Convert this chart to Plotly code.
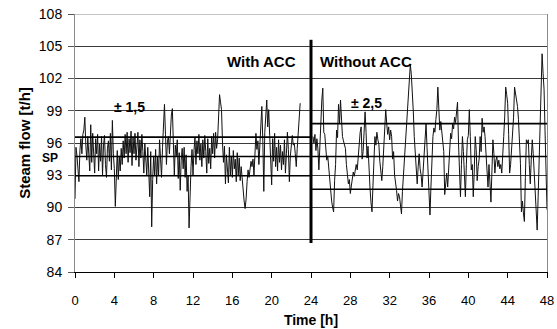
import numpy as np
import plotly.graph_objects as go

# ---- data ----
# With ACC: hourly rows, 0.1 h step, starting at 0.0 h
flow_with_acc = [
    90.8, 95.6, 94.8, 93.0, 92.4, 95.3, 96.4, 95.0, 96.8, 97.2,
    98.4, 95.8, 94.4, 96.6, 94.9, 93.4, 97.7, 94.2, 96.9, 95.1,
    93.2, 96.4, 95.0, 96.8, 93.4, 95.9, 94.3, 96.6, 93.0, 95.8,
    96.7, 94.0, 92.8, 95.5, 96.2, 94.3, 96.9, 93.5, 98.1, 95.0,
    93.6, 90.1, 93.8, 95.3, 92.6, 94.8, 93.4, 95.5, 94.0, 96.2,
    94.6, 96.8, 95.0, 97.0, 94.2, 96.4, 95.1, 97.1, 93.9, 96.5,
    95.0, 96.9, 94.4, 96.2, 97.0, 93.8, 96.3, 94.6, 96.8, 95.2,
    93.2, 96.0, 94.4, 93.0, 95.6, 93.3, 91.0, 95.2, 88.2, 92.6,
    94.8, 93.0, 95.4, 92.2, 94.7, 93.0, 96.3, 94.5, 92.8, 95.6,
    97.2, 99.6, 96.8, 94.0, 96.2, 96.6, 95.0, 97.6, 98.6, 99.2,
    96.4, 93.0, 95.8, 94.8, 96.3, 92.7, 95.1, 91.6, 94.4, 95.5,
    93.6, 95.6, 92.8, 94.9, 91.5, 93.0, 88.1, 91.4, 93.8, 95.4,
    93.0, 95.3, 96.5, 94.0, 96.2, 95.0, 96.8, 94.4, 95.9, 93.8,
    96.3, 94.6, 96.7, 95.2, 93.2, 96.4, 94.1, 95.5, 93.6, 96.6,
    95.0, 96.9, 94.6, 97.0, 95.5, 96.3, 98.0, 100.5, 99.8, 99.1,
    96.0, 94.2, 95.7, 92.2, 94.9, 93.4, 92.3, 95.6, 93.0, 94.8,
    92.8, 95.3, 93.6, 94.5, 92.4, 95.1, 93.0, 94.6, 92.5, 93.8,
    92.6, 91.2, 90.6, 89.9, 90.8, 92.4, 93.5, 92.8, 93.6, 94.3,
    93.8, 94.5, 93.0, 95.2, 96.9, 95.4, 96.2, 94.0, 95.9, 97.3,
    99.4, 96.2, 91.5, 97.0, 98.3, 100.0, 97.5, 99.1, 96.7, 94.4,
    92.1, 96.4, 94.3, 96.9, 93.8, 95.6, 93.4, 96.3, 94.2, 95.8,
    93.5, 95.2, 94.0, 96.3, 93.2, 95.0, 97.0, 95.4, 92.4, 94.8,
    96.2, 96.7, 95.8, 96.0, 95.0, 93.8, 95.5, 97.2, 98.8, 99.7,
]
start_with_acc = 0.0

# Without ACC: 0.1 h step, starting at 24.2 h
flow_without_acc = [
    96.6, 96.0, 96.8, 95.3, 96.4, 95.5, 93.5, 96.0,
    98.8, 100.0, 101.1, 97.0, 96.8, 95.4, 94.4, 94.8, 93.6, 92.9,
    91.8, 90.6, 90.0, 89.6, 92.5, 94.0, 97.2, 96.5, 99.6, 97.8,
    100.0, 97.4, 96.6, 96.2, 95.8, 95.5, 94.0, 93.0, 92.2, 92.6,
    91.3, 92.0, 92.9, 93.3, 92.9, 93.6, 94.0, 93.5, 94.8, 96.0,
    97.0, 97.5, 94.5, 95.2, 97.4, 98.9, 97.0, 94.6, 95.7, 93.2,
    91.8, 90.5, 89.6, 92.0, 94.6, 96.6, 95.8, 97.0, 96.3, 95.9,
    94.3, 93.0, 92.5, 93.8, 96.0, 98.2, 99.1, 97.8, 96.8, 97.5,
    96.3, 97.2, 96.6, 94.5, 95.2, 93.0, 92.4, 91.6, 90.6, 91.3,
    91.0, 89.8, 89.4, 91.5, 93.0, 94.1, 96.6, 97.8, 99.4, 100.6,
    101.5, 103.3, 102.4, 100.9, 99.0, 96.6, 95.0, 93.4, 92.2, 93.8,
    95.0, 93.6, 93.0, 91.9, 93.5, 94.7, 96.0, 97.8, 95.6, 93.5,
    90.6, 89.3, 92.0, 94.5, 96.6, 97.4, 97.0, 98.2, 99.1, 101.2,
    99.4, 97.2, 98.0, 97.0, 96.0, 95.2, 91.2, 92.4, 93.2, 91.9,
    93.9, 94.6, 96.9, 96.4, 97.8, 97.3, 98.4, 97.9, 98.8, 99.8,
    96.0, 93.2, 91.0, 94.0, 96.6, 95.2, 93.0, 91.0, 94.0, 96.3,
    96.7, 99.1, 96.6, 93.5, 94.0, 91.0, 93.3, 96.6, 95.4, 92.5,
    93.8, 94.5, 96.6, 95.2, 98.3, 97.0, 97.5, 96.6, 95.0, 93.2,
    91.9, 94.0, 92.2, 90.5, 93.4, 96.3, 95.0, 93.2, 94.4, 94.7,
    93.8, 94.4, 93.6, 94.0, 93.2, 95.6, 96.6, 98.5, 101.2, 100.5,
    99.7, 96.8, 93.2, 94.0, 95.2, 96.3, 98.4, 101.2, 100.6, 99.9,
    99.4, 98.2, 96.0, 94.1, 89.6, 90.6, 89.5, 88.7, 92.8, 96.3,
    96.0, 96.3, 94.0, 92.2, 94.5, 96.3, 95.0, 93.5, 91.6, 90.0,
    87.9, 91.0, 94.7, 98.5, 101.8, 104.3, 102.5, 101.0, 97.2, 93.5,
    89.8,
]
start_without_acc = 24.2
time_step = 0.1

setpoint = 94.75
band_with = (92.95, 96.55)      # With ACC limits, 0-24 h
band_without = (91.7, 97.8)     # Without ACC limits, 24-48 h
switch_time = 24
switch_span = (86.7, 105.6)

x_ticks = list(range(0, 49, 4))
y_ticks = list(range(84, 109, 3))

t_with = start_with_acc + time_step * np.arange(len(flow_with_acc))
t_without = start_without_acc + time_step * np.arange(len(flow_without_acc))

FONT = "Liberation Sans, Arial, sans-serif"

fig = go.Figure()
fig.add_trace(go.Scatter(x=t_with, y=flow_with_acc, mode="lines",
                         line=dict(color="#111111", width=1), showlegend=False))
fig.add_trace(go.Scatter(x=t_without, y=flow_without_acc, mode="lines",
                         line=dict(color="#111111", width=1), showlegend=False))

shapes = []
def hline(x0, x1, y, w=1.6, c="black"):
    shapes.append(dict(type="line", xref="x", yref="y", x0=x0, x1=x1, y0=y, y1=y,
                       line=dict(color=c, width=w), layer="above"))

hline(0, 48, setpoint)
hline(0, switch_time, band_with[0])
hline(0, switch_time, band_with[1])
hline(switch_time, 48, band_without[0])
hline(switch_time, 48, band_without[1])
hline(0, 48, 108, w=1, c="#8a8a8a")
shapes.append(dict(type="line", xref="x", yref="y", x0=switch_time, x1=switch_time,
                   y0=switch_span[0], y1=switch_span[1],
                   line=dict(color="black", width=3), layer="above"))

ann = []
def label(x, y, text, size=15, xref="x", xanchor="center", yshift=0):
    ann.append(dict(x=x, y=y, xref=xref, yref="y", text=text, showarrow=False,
                    xanchor=xanchor, yanchor="middle", yshift=yshift,
                    font=dict(family=FONT, size=size, color="black", weight="bold")))

label(19.0, 103.6, "With ACC")
label(29.6, 103.6, "Without ACC")
label(5.5, 99.35, "± 1,5", size=14)
label(29.6, 99.7, "± 2,5", size=14)
label(-0.032, setpoint, "SP", size=12, xref="paper", xanchor="right", yshift=-2)

fig.update_layout(
    width=557, height=329,
    margin=dict(l=75, r=10, t=14, b=57, autoexpand=False),
    paper_bgcolor="white", plot_bgcolor="white",
    font=dict(family=FONT, color="black"),
    shapes=shapes, annotations=ann,
    xaxis=dict(range=[0, 48], tickvals=x_ticks, ticks="outside", ticklen=5,
               tickcolor="black", showline=True, linecolor="black", linewidth=1,
               showgrid=False, zeroline=False, ticklabelstandoff=11, automargin=False,
               tickfont=dict(size=13, family=FONT),
               title=dict(text="<b>Time [h]</b>", font=dict(size=14, family=FONT), standoff=8)),
    yaxis=dict(range=[84, 108], tickvals=y_ticks, ticks="outside", ticklen=6,
               tickcolor="#555555", showline=True, linecolor="#8a8a8a", linewidth=1,
               mirror=True, showgrid=True, gridcolor="#3a3a3a", gridwidth=1,
               zeroline=False, ticklabelstandoff=3, automargin=False,
               tickfont=dict(size=14, family=FONT),
               title=dict(text="<b>Steam flow [t/h]</b>", font=dict(size=15, family=FONT), standoff=4)),
)

# remove the default 8px page margin so the figure fills the window exactly
fig.write_html("out.html", config={"displayModeBar": False},
               post_script="document.body.style.margin='0';document.body.style.overflow='hidden';")
